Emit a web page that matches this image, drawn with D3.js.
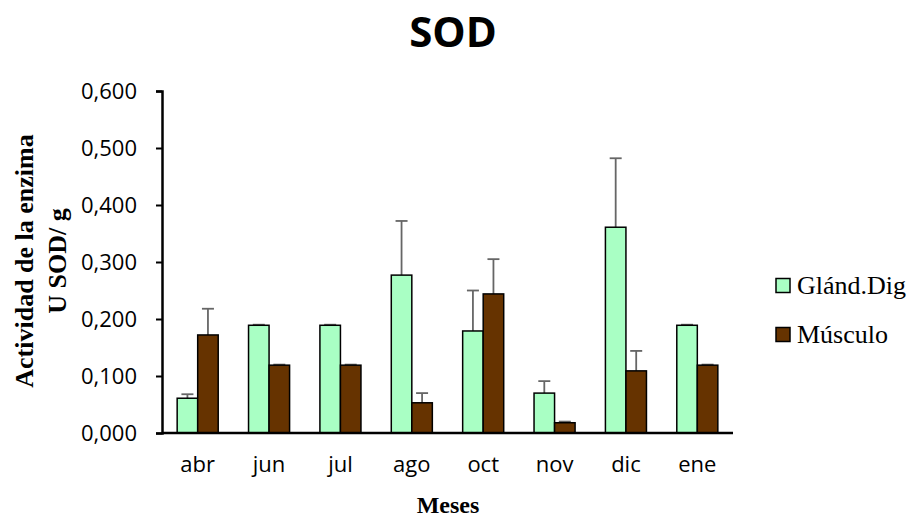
<!DOCTYPE html>
<html>
<head>
<meta charset="utf-8">
<script src="https://cdn.jsdelivr.net/npm/d3@7"></script>
<style>
  body { margin: 0; background: #fff; }
  svg { display: block; }
</style>
</head>
<body>
<svg id="chart" width="909" height="520"></svg>
<script>
// data
var months = [ "abr", "jun", "jul", "ago", "oct", "nov", "dic", "ene" ];
var series_names = [ "Glánd.Dig", "Músculo" ];
var gland_values = [ 0.061, 0.189, 0.189, 0.277, 0.179, 0.070, 0.361, 0.189 ];
var gland_errors = [ 0.007, 0.001, 0.001, 0.095, 0.071, 0.021, 0.121, 0.001 ];
var muscle_values = [ 0.172, 0.119, 0.119, 0.053, 0.244, 0.018, 0.109, 0.119 ];
var muscle_errors = [ 0.046, 0.001, 0.001, 0.017, 0.061, 0.002, 0.035, 0.001 ];
var y_ticks = [ 0, 0.1, 0.2, 0.3, 0.4, 0.5, 0.6 ];

var colors = [ "#a9ffc4", "#663300" ];

var MARGIN = { left: 162, right: 176, top: 91, bottom: 87 };
var width = 909, height = 520;

var svg = d3.select( "#chart" );

var x = d3.scaleBand()
  .domain( months )
  .range( [ MARGIN.left, width - MARGIN.right ] )
  .paddingInner( 0.425 )
  .paddingOuter( 0.2125 );

var x_inner = d3.scaleBand()
  .domain( [ 0, 1 ] )
  .range( [ 0, x.bandwidth() ] );

var y = d3.scaleLinear()
  .domain( [ 0, 0.6 ] )
  .range( [ height - MARGIN.bottom, MARGIN.top ] );

var fmt = function( d ){ return d3.format( ".3f" )( d ).replace( ".", "," ); };

var SANS = "'Open Sans', 'Liberation Sans', sans-serif";
var SERIF = "'Liberation Serif', 'DejaVu Serif', serif";

// title
svg.append( "text" )
  .attr( "x", 453 )
  .attr( "y", 47 )
  .attr( "text-anchor", "middle" )
  .style( "font-family", SANS )
  .style( "font-weight", "bold" )
  .style( "font-size", "42px" )
  .text( "SOD" );

// bars
var series = [
  { values: gland_values, errors: gland_errors },
  { values: muscle_values, errors: muscle_errors }
];

series.forEach( function( s, si ){
  var g = svg.append( "g" );

  // error bars first (behind bars)
  months.forEach( function( m, i ){
    var cx = x( m ) + x_inner( si ) + x_inner.bandwidth() / 2;
    var top = y( s.values[ i ] + s.errors[ i ] );
    g.append( "line" )
      .attr( "x1", cx ).attr( "x2", cx )
      .attr( "y1", y( s.values[ i ] ) ).attr( "y2", top )
      .attr( "stroke", "#666" ).attr( "stroke-width", 1.8 );
    g.append( "line" )
      .attr( "x1", cx - 6 ).attr( "x2", cx + 6 )
      .attr( "y1", top ).attr( "y2", top )
      .attr( "stroke", "#666" ).attr( "stroke-width", 1.8 );
  } );

  g.selectAll( "rect" )
    .data( s.values )
    .enter()
    .append( "rect" )
    .attr( "x", function( d, i ){ return x( months[ i ] ) + x_inner( si ); } )
    .attr( "y", function( d ){ return y( d ); } )
    .attr( "width", x_inner.bandwidth() )
    .attr( "height", function( d ){ return y( 0 ) - y( d ); } )
    .attr( "fill", colors[ si ] )
    .attr( "stroke", "#000" )
    .attr( "stroke-width", 1.5 );
} );

// axes
var y_axis = svg.append( "g" )
  .attr( "transform", "translate(" + MARGIN.left + ",0)" )
  .call( d3.axisLeft( y ).tickValues( y_ticks ).tickFormat( fmt ).tickSize( 6 ).tickPadding( 19 ) );

var x_axis = svg.append( "g" )
  .attr( "transform", "translate(0," + y( 0 ) + ")" )
  .call( d3.axisBottom( x ).tickSize( 0 ).tickPadding( 23 ) );

[ y_axis, x_axis ].forEach( function( a ){
  a.select( ".domain" ).attr( "stroke", "#000" ).attr( "stroke-width", 2.5 );
  a.selectAll( ".tick line" ).attr( "stroke", "#000" ).attr( "stroke-width", 2 );
  a.selectAll( ".tick text" )
    .style( "font-family", SANS )
    .style( "font-size", "22px" )
    .attr( "fill", "#000" );
} );
x_axis.select( ".domain" ).attr( "d", "M" + MARGIN.left + ",0H" + ( width - MARGIN.right ) );

// axis titles
var y_title = svg.append( "text" )
  .attr( "transform", "translate(33,261) rotate(-90)" )
  .attr( "text-anchor", "middle" )
  .style( "font-family", SERIF )
  .style( "font-weight", "bold" )
  .style( "font-size", "26px" );
y_title.append( "tspan" ).attr( "x", 0 ).attr( "y", 0 ).text( "Actividad de la enzima" );
y_title.append( "tspan" ).attr( "x", 0 ).attr( "y", 33 ).text( "U SOD/ g" );

svg.append( "text" )
  .attr( "x", 448 )
  .attr( "y", 513 )
  .attr( "text-anchor", "middle" )
  .style( "font-family", SERIF )
  .style( "font-weight", "bold" )
  .style( "font-size", "24px" )
  .text( "Meses" );

// legend
var legend = svg.append( "g" );
series_names.forEach( function( name, i ){
  var ly = 285.5 + i * 49;
  legend.append( "rect" )
    .attr( "x", 776 )
    .attr( "y", ly - 7 )
    .attr( "width", 14 )
    .attr( "height", 14 )
    .attr( "fill", colors[ i ] )
    .attr( "stroke", "#000" )
    .attr( "stroke-width", 1.5 );
  legend.append( "text" )
    .attr( "x", 797 )
    .attr( "y", ly + 8 )
    .style( "font-family", SERIF )
    .style( "font-size", "26px" )
    .text( name );
} );
</script>
</body>
</html>
